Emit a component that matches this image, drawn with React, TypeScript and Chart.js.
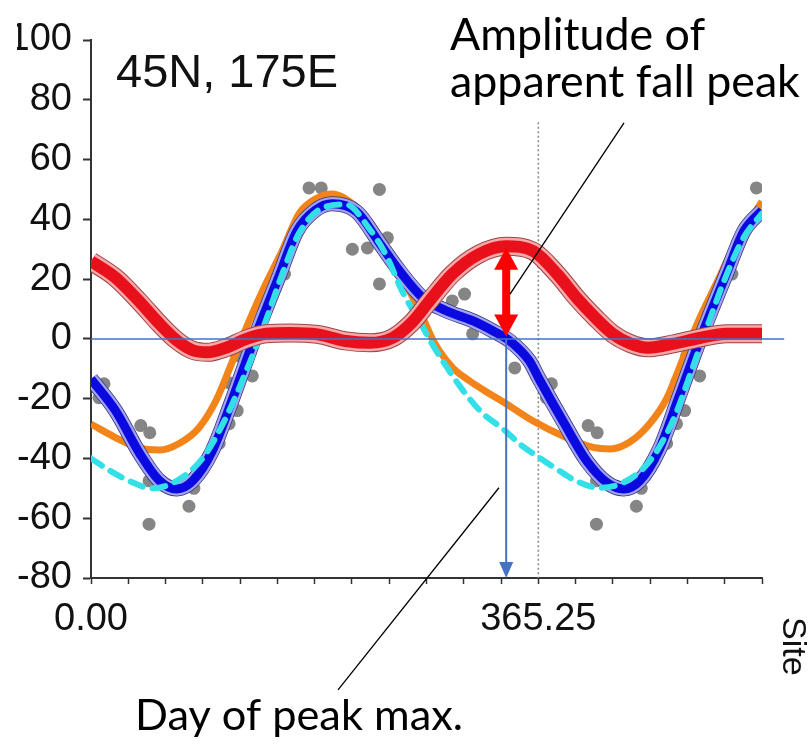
import { useEffect, useRef } from 'react';
import { Chart, registerables } from 'chart.js';

Chart.register(...registerables);

// Day-of-year axis: monthly ticks over 18 months, labels at the year boundaries
const xTickDays = [0, 30.4375, 60.875, 91.3125, 121.75, 152.1875, 182.625, 213.0625, 243.5, 273.9375,
  304.375, 334.8125, 365.25, 395.6875, 426.125, 456.5625, 487, 517.4375, 547.875];
const xLabelDays = [0, 365.25];
const xLabelTexts = ['0.00', '365.25'];

// Observed anomalies (grey dots)
const obsDays = [6.5, 10.6, 40.6, 48, 47.4, 47.4, 80, 84, 104.7, 112.8, 119.4, 112.8, 131.7, 121, 158, 178, 188,
  213.4, 225.7, 242, 235.5, 235.5, 274.8, 295, 305, 311.6, 346,
  371.8, 375.9, 405.9, 413.3, 412.7, 412.7, 445.3, 449.3, 470, 478.1, 484.7, 478.1, 497, 486.3, 523.3, 543.3];
const obsVals = [-19.7, -15, -29, -31.4, -47.5, -62, -56, -50, -35, -28.4, -24, -14.7, -12.4, -5.7, 21.7, 50.5, 50.5,
  30, 30.4, 33.8, 50, 18.4, 13.7, 12.7, 15, 1.7, -9.7,
  -19.7, -15, -29, -31.4, -47.5, -62, -56, -50, -35, -28.4, -24, -14.7, -12.4, -5.7, 21.7, 50.5];

// Fitted seasonal cycle (blue, with confidence band)
const fitDays = [0, 20, 40, 56, 70, 83, 99, 115, 132, 154, 168, 183, 197, 217, 236, 252, 271, 290, 312, 328, 342,
  358, 366, 386, 405, 421, 435, 448, 464, 480, 497, 519, 533, 547.875];
const fitVals = [-13.4, -24, -38.5, -47.5, -50.2, -47.5, -37.5, -20.7, -1.5, 21.5, 36, 43, 45.2, 42.5, 31.8, 22.7,
  13.7, 9.4, 6, 2.7, -0.7, -7.4, -13.5, -28, -41, -48, -50.2, -47.5, -37, -19.5, -0.5, 22, 36, 43];

// Single-harmonic model (cyan dashed)
const modelDays = [0, 15, 31, 50, 70, 91, 110, 127, 140, 156, 170, 189, 208, 227, 241, 254, 268, 279, 293, 307, 320,
  336, 352, 365.25, 380, 396, 415, 435, 456, 475, 490, 503, 518, 533, 547.875];
const modelVals = [-40, -44, -47.5, -50, -47.5, -40, -26.5, -10.5, 3, 21.5, 35.5, 43.8, 45, 37, 28, 16, 6, -2, -11,
  -19, -25, -30, -35.8, -39.5, -43.5, -47.5, -49.8, -48, -41, -27.5, -11, 4, 20.5, 34, 42];

// Comparison cycle (orange)
const altDays = [0, 20, 39, 56, 72, 88, 102, 115, 124, 140, 156, 170, 184, 197, 217, 233, 246, 260, 271, 280, 295,
  309, 322, 339, 361, 388, 410, 424, 440, 456, 470, 483, 496, 510, 524, 547.875];
const altVals = [-28.5, -33, -36.5, -37.2, -35, -29.8, -20.7, -8, 1, 16, 29.4, 42, 47, 48.5, 44, 36, 26, 16, 7, -1,
  -9.5, -14, -17.5, -21.7, -27.5, -33, -36.3, -36.8, -34.5, -28.5, -20, -7, 6, 18, 30, 46];

// Residual fall peak (red, with confidence band)
const fallDays = [0, 20, 39, 56, 70, 83, 95, 110, 127, 143, 163, 185, 208, 228, 246, 262, 276, 295, 317, 339, 361,
  381, 397, 412, 426, 440, 455, 475, 497, 519, 547.875];
const fallVals = [26, 20.5, 12.7, 5, -0.5, -3.8, -4.5, -3, 0, 1.7, 2, 1.5, -0.7, -1.3, 0.3, 5.5, 12.5, 21.7, 28.4,
  31, 29.4, 21.5, 13.5, 7, 1.7, -1.5, -3, -1.7, 0.3, 1.7, 1.7];

const peakDay = 339;
const peakAmp = 30.5;

const pts = (days: number[], vals: number[]) => days.map((d, i) => ({ x: d, y: vals[i] }));

const AXIS_FONT = "'Liberation Sans', Arial, sans-serif";
const NOTE_FONT = "Lato, 'Open Sans', sans-serif";

const fitSize = (ctx: CanvasRenderingContext2D, text: string, family: string, width: number) => {
  ctx.font = `100px ${family}`;
  return (100 * width) / ctx.measureText(text).width;
};

const overlay = {
  id: 'overlay',
  beforeDatasetsDraw(chart: any) {
    const { ctx, scales: { x, y } } = chart;
    ctx.save();
    ctx.strokeStyle = '#8c8c8c';
    ctx.lineWidth = 1.6;
    ctx.setLineDash([2, 2.5]);
    const px = x.getPixelForValue(365.25);
    ctx.beginPath();
    ctx.moveTo(px, y.getPixelForValue(72.5));
    ctx.lineTo(px, y.getPixelForValue(-80));
    ctx.stroke();
    ctx.restore();
  },
  afterDatasetsDraw(chart: any) {
    const { ctx, scales: { x, y } } = chart;
    ctx.save();
    // zero line
    ctx.strokeStyle = '#4472c4';
    ctx.lineWidth = 1.5;
    const y0 = y.getPixelForValue(0);
    ctx.beginPath();
    ctx.moveTo(x.getPixelForValue(0), y0);
    ctx.lineTo(x.getPixelForValue(566), y0);
    ctx.stroke();

    // day of peak: vertical arrow to the axis
    const pk = x.getPixelForValue(peakDay);
    const yb = y.getPixelForValue(-80);
    ctx.lineWidth = 2;
    ctx.beginPath();
    ctx.moveTo(pk, y0);
    ctx.lineTo(pk, yb - 14);
    ctx.stroke();
    ctx.fillStyle = '#4472c4';
    ctx.beginPath();
    ctx.moveTo(pk - 7, yb - 16);
    ctx.lineTo(pk + 7, yb - 16);
    ctx.lineTo(pk, yb);
    ctx.closePath();
    ctx.fill();

    // amplitude: red double arrow
    const yt = y.getPixelForValue(peakAmp);
    const yz = y.getPixelForValue(0.8);
    ctx.fillStyle = '#ff0000';
    ctx.fillRect(pk - 4, yt + 18, 8, yz - yt - 36);
    ctx.beginPath();
    ctx.moveTo(pk, yt);
    ctx.lineTo(pk + 12, yt + 22);
    ctx.lineTo(pk - 12, yt + 22);
    ctx.closePath();
    ctx.fill();
    ctx.beginPath();
    ctx.moveTo(pk, yz);
    ctx.lineTo(pk + 12, yz - 22);
    ctx.lineTo(pk - 12, yz - 22);
    ctx.closePath();
    ctx.fill();
    ctx.restore();
  },
  afterDraw(chart: any) {
    const { ctx, scales: { x, y } } = chart;
    ctx.save();
    // leader lines
    ctx.strokeStyle = '#000';
    ctx.lineWidth = 1.3;
    ctx.beginPath();
    ctx.moveTo(x.getPixelForValue(435.2), y.getPixelForValue(72.3));
    ctx.lineTo(x.getPixelForValue(342.1), y.getPixelForValue(15));
    ctx.moveTo(x.getPixelForValue(333.1), y.getPixelForValue(-49.8));
    ctx.lineTo(x.getPixelForValue(201.7), y.getPixelForValue(-117.4));
    ctx.stroke();

    // trimmed left edge of the top tick label
    ctx.fillStyle = '#fff';
    ctx.fillRect(0, 22, 17, 36);

    // site name
    ctx.fillStyle = '#111';
    ctx.textBaseline = 'alphabetic';
    ctx.textAlign = 'left';
    ctx.font = `47px ${AXIS_FONT}`;
    ctx.fillText('45N, 175E', 116, 87);

    // rotated axis caption
    ctx.save();
    ctx.translate(783, 617);
    ctx.rotate(Math.PI / 2);
    ctx.font = `34px ${AXIS_FONT}`;
    ctx.fillText('Site', 0, 0);
    ctx.restore();

    // notes
    ctx.fillStyle = '#000';
    const s1 = fitSize(ctx, 'apparent fall peak', NOTE_FONT, 350);
    ctx.font = `${s1}px ${NOTE_FONT}`;
    ctx.fillText('Amplitude of', 450, 50);
    ctx.fillText('apparent fall peak', 450, 97);
    const s2 = fitSize(ctx, 'Day of peak max.', NOTE_FONT, 328);
    ctx.font = `${s2}px ${NOTE_FONT}`;
    ctx.fillText('Day of peak max.', 135, 730);
    ctx.restore();
  },
};

const lineSet = (data: any[], color: string, width: number, order: number, extra: any = {}) => ({
  type: 'line',
  data,
  borderColor: color,
  borderWidth: width,
  pointRadius: 0,
  fill: false,
  cubicInterpolationMode: 'monotone',
  borderJoinStyle: 'round',
  clip: { left: 0, right: 0, top: false, bottom: false },
  order,
  ...extra,
});

export default function App() {
  const ref = useRef<HTMLCanvasElement>(null);

  useEffect(() => {
    const fall = pts(fallDays, fallVals);
    const fit = pts(fitDays, fitVals);
    const chart = new Chart(ref.current as HTMLCanvasElement, {
      type: 'line',
      data: {
        datasets: [
          lineSet(fall, '#e8101a', 12, 0),
          lineSet(fall, '#f7a9a9', 17, 1),
          lineSet(fall, '#9a4545', 19, 2),
          lineSet(pts(modelDays, modelVals), '#33e0e8', 6, 3, { borderDash: [13, 10], borderCapStyle: 'round' }),
          lineSet(fit, '#0a0ae0', 9, 4),
          lineSet(fit, '#a3a3f2', 13.5, 5),
          lineSet(fit, '#35357a', 15, 6),
          lineSet(pts(altDays, altVals), '#f2841a', 7, 7),
          {
            type: 'scatter',
            data: pts(obsDays, obsVals),
            pointRadius: 6.5,
            pointBackgroundColor: '#858585',
            pointBorderWidth: 0,
            showLine: false,
            order: 8,
          },
        ] as any,
      },
      options: {
        responsive: false,
        animation: false,
        events: [],
        layout: { padding: { top: 40, right: 48, left: 0, bottom: 0 } },
        plugins: { legend: { display: false }, tooltip: { enabled: false } },
        scales: {
          x: {
            type: 'linear',
            min: 0,
            max: 547.875,
            afterFit: (s: any) => { s.height = 169; },
            afterBuildTicks: (s: any) => { s.ticks = xTickDays.map((v) => ({ value: v })); },
            grid: { drawOnChartArea: false, drawTicks: true, tickLength: 6, tickWidth: 1.5, tickColor: '#333' },
            border: { display: true, color: '#333', width: 2 },
            ticks: {
              autoSkip: false,
              maxRotation: 0,
              padding: 13,
              color: '#111',
              font: { family: AXIS_FONT, size: 38 },
              callback: (v: any) => {
                const k = xLabelDays.findIndex((d) => Math.abs(d - Number(v)) < 1e-6);
                return k >= 0 ? xLabelTexts[k] : '';
              },
            },
          },
          y: {
            min: -80,
            max: 100,
            afterFit: (s: any) => { s.width = 91; },
            grid: { drawOnChartArea: false, drawTicks: true, tickLength: 8, tickWidth: 2, tickColor: '#333' },
            border: { display: true, color: '#333', width: 2 },
            ticks: {
              stepSize: 20,
              padding: 11,
              color: '#111',
              font: { family: AXIS_FONT, size: 38 },
            },
          },
        },
      },
      plugins: [overlay],
    } as any);
    return () => chart.destroy();
  }, []);

  return (
    <div style={{ position: 'absolute', left: 0, top: 0, width: 810, height: 747, background: '#fff' }}>
      <canvas ref={ref} width={810} height={747} style={{ display: 'block', width: 810, height: 747 }} />
    </div>
  );
}
